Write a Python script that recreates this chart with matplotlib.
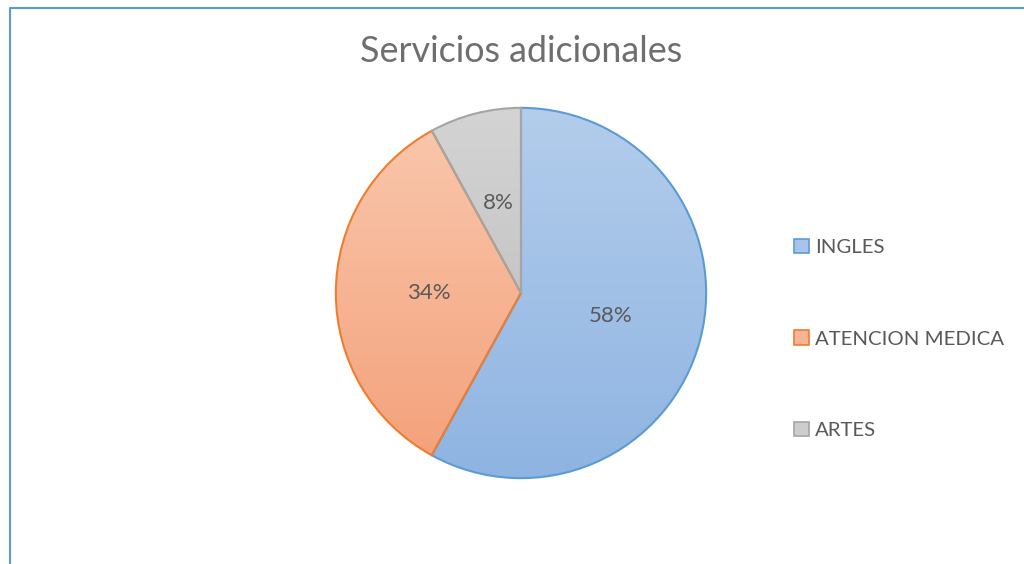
import numpy as np
import matplotlib.pyplot as plt
from matplotlib.colors import LinearSegmentedColormap
from matplotlib.lines import Line2D
from matplotlib.patches import Patch

plt.rcParams["font.family"] = ["Lato", "DejaVu Sans"]

categories = ["INGLES", "ATENCION MEDICA", "ARTES"]
values = [58, 34, 8]

TOP_COLORS = ["#B3CDEB", "#F9C6AB", "#D4D4D4"]
BOTTOM_COLORS = ["#8FB4E2", "#F4A27C", "#C6C6C6"]
EDGE_COLORS = ["#5B9BD5", "#ED7D31", "#A5A5A5"]
TEXT_COLOR = "#595959"
W, H = 1024, 564


def fill_gradient(ax, wedge, top, bottom):
    # vertical gradient clipped to the wedge shape
    ext = wedge.get_path().get_extents()
    cmap = LinearSegmentedColormap.from_list("g", [bottom, top])
    grad = np.linspace(0, 1, 256).reshape(-1, 1)
    img = ax.imshow(
        grad, cmap=cmap, origin="lower", aspect="auto",
        extent=[ext.x0, ext.x1, ext.y0, ext.y1], zorder=1,
    )
    img.set_clip_path(wedge)


fig = plt.figure(figsize=(W / 100, H / 100), dpi=100)

cx, cy, r = 521, 293, 187
ax = fig.add_axes([(cx - r) / W, (H - cy - r) / H, 2 * r / W, 2 * r / H])
wedges, texts, autotexts = ax.pie(
    values,
    startangle=90,
    counterclock=False,
    radius=1,
    autopct="%1.0f%%",
    pctdistance=0.5,
    wedgeprops=dict(linewidth=1.5),
    textprops=dict(color=TEXT_COLOR, fontsize=16),
)
for w, top, bottom, edge in zip(wedges, TOP_COLORS, BOTTOM_COLORS, EDGE_COLORS):
    w.set_facecolor("none")
    w.set_edgecolor(edge)
    w.set_zorder(2)
    fill_gradient(ax, w, top, bottom)
for t in autotexts:
    t.set_zorder(3)
ax.set_xlim(-1.01, 1.01)
ax.set_ylim(-1.01, 1.01)
ax.axis("off")

fig.text(0.509, 1 - 52 / H, "Servicios adicionales", ha="center", va="center",
         fontsize=25.8, color="#6E6E6E")

handles = [
    Patch(facecolor=c, edgecolor=e, linewidth=1.2)
    for c, e in zip(
        ["#A7C5EA", "#F7B596", "#CDCDCD"], EDGE_COLORS
    )
]
fig.legend(
    handles, categories,
    loc="center left", bbox_to_anchor=(776 / W, 1 - 339 / H),
    frameon=False, fontsize=14.7, labelcolor=TEXT_COLOR,
    handlelength=0.7, handleheight=0.7, handletextpad=0.3,
    labelspacing=3.65,
)

# chart border (only left and top visible in the crop)
border = Line2D([10 / W, 10 / W, 1], [0, 1 - 8 / H, 1 - 8 / H],
                transform=fig.transFigure, color="#5B9BD5", linewidth=1.5)
fig.add_artist(border)

fig.savefig("out.png", dpi=100, facecolor="white")
